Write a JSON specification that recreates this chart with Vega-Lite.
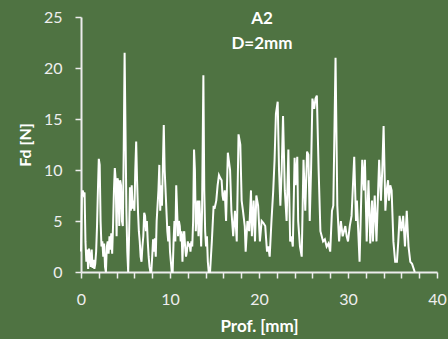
{
  "$schema": "https://vega.github.io/schema/vega-lite/v6.json",
  "width": 356,
  "height": 255,
  "autosize": {"type": "none"},
  "padding": {"left": 81, "top": 17, "right": 11, "bottom": 67},
  "background": "#4f7342",
  "config": {
    "view": {"stroke": null},
    "font": "Lato",
    "axis": {"grid": false}
  },
  "title": {
    "text": ["A2", "D=2mm"],
    "anchor": "middle",
    "orient": "top",
    "baseline": "top",
    "offset": -44,
    "dx": 3,
    "lineHeight": 25,
    "font": "Lato",
    "fontSize": 17,
    "fontWeight": "bold",
    "color": "#ffffff"
  },
  "data": {
    "values": [
      {"x": 0.0, "y": 2.0}, {"x": 0.1, "y": 7.5}, {"x": 0.2, "y": 8.0}, {"x": 0.3, "y": 7.6}, {"x": 0.4, "y": 7.8},
      {"x": 0.5, "y": 3.0}, {"x": 0.6, "y": 1.0}, {"x": 0.7, "y": 2.2}, {"x": 0.8, "y": 0.3}, {"x": 0.9, "y": 2.3},
      {"x": 1.0, "y": 1.5}, {"x": 1.1, "y": 0.5}, {"x": 1.2, "y": 2.2}, {"x": 1.3, "y": 0.4}, {"x": 1.4, "y": 1.2},
      {"x": 1.5, "y": 0.3}, {"x": 1.6, "y": 0.8}, {"x": 1.7, "y": 2.0}, {"x": 1.8, "y": 4.5}, {"x": 1.9, "y": 8.0},
      {"x": 2.0, "y": 11.1}, {"x": 2.1, "y": 10.5}, {"x": 2.2, "y": 5.0}, {"x": 2.3, "y": 2.5}, {"x": 2.4, "y": 3.0},
      {"x": 2.5, "y": 1.5}, {"x": 2.6, "y": 2.8}, {"x": 2.7, "y": 0.5}, {"x": 2.8, "y": 0.0}, {"x": 2.9, "y": 2.5},
      {"x": 3.0, "y": 3.0}, {"x": 3.1, "y": 1.8}, {"x": 3.2, "y": 3.5}, {"x": 3.3, "y": 2.2}, {"x": 3.4, "y": 3.8},
      {"x": 3.5, "y": 1.8}, {"x": 3.6, "y": 4.5}, {"x": 3.7, "y": 8.0}, {"x": 3.8, "y": 10.2}, {"x": 3.9, "y": 9.0},
      {"x": 4.0, "y": 3.5}, {"x": 4.1, "y": 9.2}, {"x": 4.2, "y": 8.8}, {"x": 4.3, "y": 4.5}, {"x": 4.4, "y": 9.0},
      {"x": 4.5, "y": 8.5}, {"x": 4.6, "y": 5.0}, {"x": 4.7, "y": 4.5}, {"x": 4.8, "y": 12.0}, {"x": 4.9, "y": 21.5},
      {"x": 5.0, "y": 14.0}, {"x": 5.1, "y": 6.0}, {"x": 5.2, "y": 2.0}, {"x": 5.3, "y": 0.0}, {"x": 5.4, "y": 3.5},
      {"x": 5.5, "y": 8.3}, {"x": 5.6, "y": 6.0}, {"x": 5.7, "y": 8.5}, {"x": 5.8, "y": 6.2}, {"x": 5.9, "y": 7.0},
      {"x": 6.0, "y": 6.0}, {"x": 6.1, "y": 10.0}, {"x": 6.2, "y": 12.8}, {"x": 6.3, "y": 9.0}, {"x": 6.4, "y": 6.0},
      {"x": 6.5, "y": 4.0}, {"x": 6.6, "y": 3.0}, {"x": 6.7, "y": 1.5}, {"x": 6.8, "y": 1.0}, {"x": 6.9, "y": 2.5},
      {"x": 7.0, "y": 3.5}, {"x": 7.1, "y": 5.8}, {"x": 7.2, "y": 5.5}, {"x": 7.3, "y": 4.0}, {"x": 7.4, "y": 5.0},
      {"x": 7.5, "y": 3.0}, {"x": 7.6, "y": 1.5}, {"x": 7.7, "y": 0.5}, {"x": 7.8, "y": 0.0}, {"x": 7.9, "y": 0.0},
      {"x": 8.0, "y": 1.5}, {"x": 8.1, "y": 3.2}, {"x": 8.2, "y": 2.0}, {"x": 8.3, "y": 3.3}, {"x": 8.4, "y": 1.5},
      {"x": 8.5, "y": 5.0}, {"x": 8.6, "y": 6.5}, {"x": 8.7, "y": 8.0}, {"x": 8.8, "y": 10.5}, {"x": 8.9, "y": 6.0},
      {"x": 9.0, "y": 8.5}, {"x": 9.1, "y": 6.5}, {"x": 9.2, "y": 10.5}, {"x": 9.3, "y": 14.4}, {"x": 9.4, "y": 10.0},
      {"x": 9.5, "y": 8.0}, {"x": 9.6, "y": 6.0}, {"x": 9.7, "y": 4.0}, {"x": 9.8, "y": 3.0}, {"x": 9.9, "y": 4.5},
      {"x": 10.0, "y": 2.0}, {"x": 10.1, "y": 1.0}, {"x": 10.2, "y": 0.0}, {"x": 10.3, "y": 0.0}, {"x": 10.4, "y": 3.0},
      {"x": 10.5, "y": 5.0}, {"x": 10.6, "y": 3.0}, {"x": 10.7, "y": 8.5}, {"x": 10.8, "y": 6.0}, {"x": 10.9, "y": 3.5},
      {"x": 11.0, "y": 5.0}, {"x": 11.1, "y": 4.5}, {"x": 11.2, "y": 3.0}, {"x": 11.3, "y": 4.0}, {"x": 11.4, "y": 1.0},
      {"x": 11.5, "y": 3.5}, {"x": 11.6, "y": 4.0}, {"x": 11.7, "y": 2.5}, {"x": 11.8, "y": 1.5}, {"x": 11.9, "y": 2.0},
      {"x": 12.0, "y": 3.0}, {"x": 12.1, "y": 2.5}, {"x": 12.2, "y": 2.8}, {"x": 12.3, "y": 2.0}, {"x": 12.4, "y": 3.0},
      {"x": 12.5, "y": 2.5}, {"x": 12.6, "y": 5.0}, {"x": 12.7, "y": 12.0}, {"x": 12.8, "y": 10.0}, {"x": 12.9, "y": 4.0},
      {"x": 13.0, "y": 6.0}, {"x": 13.1, "y": 7.0}, {"x": 13.2, "y": 3.5}, {"x": 13.3, "y": 7.0}, {"x": 13.4, "y": 5.0},
      {"x": 13.5, "y": 2.5}, {"x": 13.6, "y": 6.0}, {"x": 13.75, "y": 19.3}, {"x": 13.85, "y": 8.0}, {"x": 13.95, "y": 4.0},
      {"x": 14.05, "y": 2.5}, {"x": 14.15, "y": 3.5}, {"x": 14.25, "y": 1.0}, {"x": 14.35, "y": 0.0}, {"x": 14.5, "y": 0.0},
      {"x": 14.7, "y": 3.0}, {"x": 14.9, "y": 6.5}, {"x": 15.0, "y": 6.2}, {"x": 15.2, "y": 7.0}, {"x": 15.35, "y": 8.5},
      {"x": 15.5, "y": 9.5}, {"x": 15.65, "y": 9.2}, {"x": 15.8, "y": 9.0}, {"x": 15.9, "y": 7.5}, {"x": 16.0, "y": 7.0},
      {"x": 16.15, "y": 8.0}, {"x": 16.3, "y": 5.0}, {"x": 16.5, "y": 11.7}, {"x": 16.6, "y": 11.0}, {"x": 16.75, "y": 10.0},
      {"x": 16.9, "y": 6.0}, {"x": 17.1, "y": 3.5}, {"x": 17.3, "y": 6.0}, {"x": 17.5, "y": 3.0}, {"x": 17.7, "y": 13.5},
      {"x": 17.9, "y": 12.5}, {"x": 18.05, "y": 7.0}, {"x": 18.2, "y": 6.0}, {"x": 18.4, "y": 4.5}, {"x": 18.5, "y": 2.0},
      {"x": 18.7, "y": 5.0}, {"x": 18.9, "y": 4.0}, {"x": 19.1, "y": 8.0}, {"x": 19.2, "y": 3.5}, {"x": 19.4, "y": 7.0},
      {"x": 19.55, "y": 3.0}, {"x": 19.7, "y": 7.5}, {"x": 19.9, "y": 6.5}, {"x": 20.1, "y": 3.0}, {"x": 20.3, "y": 5.0},
      {"x": 20.5, "y": 4.8}, {"x": 20.7, "y": 4.5}, {"x": 20.9, "y": 2.0}, {"x": 21.05, "y": 2.5}, {"x": 21.2, "y": 1.5},
      {"x": 21.4, "y": 5.0}, {"x": 21.6, "y": 8.0}, {"x": 21.75, "y": 11.0}, {"x": 21.9, "y": 15.5}, {"x": 22.1, "y": 16.7},
      {"x": 22.25, "y": 10.0}, {"x": 22.4, "y": 6.5}, {"x": 22.55, "y": 10.0}, {"x": 22.7, "y": 15.3}, {"x": 22.9, "y": 8.0},
      {"x": 23.1, "y": 5.0}, {"x": 23.3, "y": 12.0}, {"x": 23.5, "y": 3.0}, {"x": 23.65, "y": 3.5}, {"x": 23.8, "y": 2.5},
      {"x": 24.0, "y": 11.2}, {"x": 24.1, "y": 8.5}, {"x": 24.3, "y": 11.3}, {"x": 24.4, "y": 5.0}, {"x": 24.6, "y": 2.5},
      {"x": 24.8, "y": 1.5}, {"x": 25.0, "y": 11.0}, {"x": 25.2, "y": 6.0}, {"x": 25.4, "y": 11.8}, {"x": 25.55, "y": 11.5},
      {"x": 25.7, "y": 5.0}, {"x": 25.85, "y": 10.0}, {"x": 26.0, "y": 17.0}, {"x": 26.2, "y": 16.0}, {"x": 26.35, "y": 17.0},
      {"x": 26.5, "y": 17.3}, {"x": 26.7, "y": 10.0}, {"x": 26.9, "y": 4.0}, {"x": 27.05, "y": 3.5}, {"x": 27.2, "y": 3.0},
      {"x": 27.4, "y": 3.2}, {"x": 27.6, "y": 2.5}, {"x": 27.8, "y": 2.8}, {"x": 28.0, "y": 2.0}, {"x": 28.2, "y": 6.0},
      {"x": 28.35, "y": 6.5}, {"x": 28.6, "y": 21.0}, {"x": 28.8, "y": 6.5}, {"x": 29.0, "y": 3.0}, {"x": 29.2, "y": 5.0},
      {"x": 29.4, "y": 3.5}, {"x": 29.55, "y": 4.0}, {"x": 29.7, "y": 4.5}, {"x": 29.85, "y": 3.5}, {"x": 30.0, "y": 3.0},
      {"x": 30.2, "y": 4.5}, {"x": 30.4, "y": 5.5}, {"x": 30.7, "y": 11.3}, {"x": 30.9, "y": 5.0}, {"x": 31.0, "y": 7.0},
      {"x": 31.15, "y": 4.0}, {"x": 31.3, "y": 1.0}, {"x": 31.45, "y": 6.0}, {"x": 31.6, "y": 11.0}, {"x": 31.8, "y": 8.0},
      {"x": 31.9, "y": 11.0}, {"x": 32.1, "y": 3.0}, {"x": 32.3, "y": 9.0}, {"x": 32.5, "y": 2.8}, {"x": 32.7, "y": 7.0},
      {"x": 32.8, "y": 3.0}, {"x": 33.0, "y": 7.5}, {"x": 33.2, "y": 3.0}, {"x": 33.35, "y": 7.0}, {"x": 33.5, "y": 11.0},
      {"x": 33.7, "y": 7.0}, {"x": 33.85, "y": 10.0}, {"x": 34.0, "y": 14.3}, {"x": 34.2, "y": 6.0}, {"x": 34.35, "y": 8.0},
      {"x": 34.5, "y": 9.0}, {"x": 34.6, "y": 7.0}, {"x": 34.75, "y": 8.5}, {"x": 34.9, "y": 8.0}, {"x": 35.1, "y": 3.0},
      {"x": 35.3, "y": 1.0}, {"x": 35.5, "y": 1.0}, {"x": 35.65, "y": 3.0}, {"x": 35.8, "y": 5.5}, {"x": 36.0, "y": 4.0},
      {"x": 36.2, "y": 5.5}, {"x": 36.4, "y": 2.5}, {"x": 36.6, "y": 6.0}, {"x": 36.8, "y": 2.5}, {"x": 37.0, "y": 1.0},
      {"x": 37.2, "y": 0.8}, {"x": 37.5, "y": 0.0}
    ]
  },
  "mark": {"type": "line", "color": "#ffffff", "strokeWidth": 2, "interpolate": "linear"},
  "encoding": {
    "x": {
      "field": "x",
      "type": "quantitative",
      "scale": {"domain": [0, 40], "nice": false, "zero": true},
      "axis": {
        "title": "Prof. [mm]",
        "values": [0, 2, 4, 6, 8, 10, 12, 14, 16, 18, 20, 22, 24, 26, 28, 30, 32, 34, 36, 38, 40],
        "labelExpr": "datum.value % 10 === 0 ? datum.label : ''",
        "domainColor": "#ececec",
        "domainWidth": 2,
        "tickColor": "#ececec",
        "tickWidth": 1.5,
        "tickSize": 6,
        "labelColor": "#eeeeee",
        "labelFont": "Lato",
        "labelFontSize": 16,
        "labelPadding": 13,
        "labelFlush": false,
        "titleColor": "#ffffff",
        "titleFont": "Lato",
        "titleFontSize": 17,
        "titleFontWeight": "bold",
        "titlePadding": 11
      }
    },
    "y": {
      "field": "y",
      "type": "quantitative",
      "scale": {"domain": [0, 25], "nice": false},
      "axis": {
        "title": "Fd [N]",
        "values": [0, 5, 10, 15, 20, 25],
        "domainColor": "#ececec",
        "domainWidth": 2,
        "tickColor": "#ececec",
        "tickWidth": 1.5,
        "tickSize": 6,
        "labelColor": "#eeeeee",
        "labelFont": "Lato",
        "labelFontSize": 16,
        "labelPadding": 13,
        "labelFlush": false,
        "titleColor": "#ffffff",
        "titleFont": "Lato",
        "titleFontSize": 16,
        "titleFontWeight": "bold",
        "titlePadding": 10
      }
    }
  }
}
